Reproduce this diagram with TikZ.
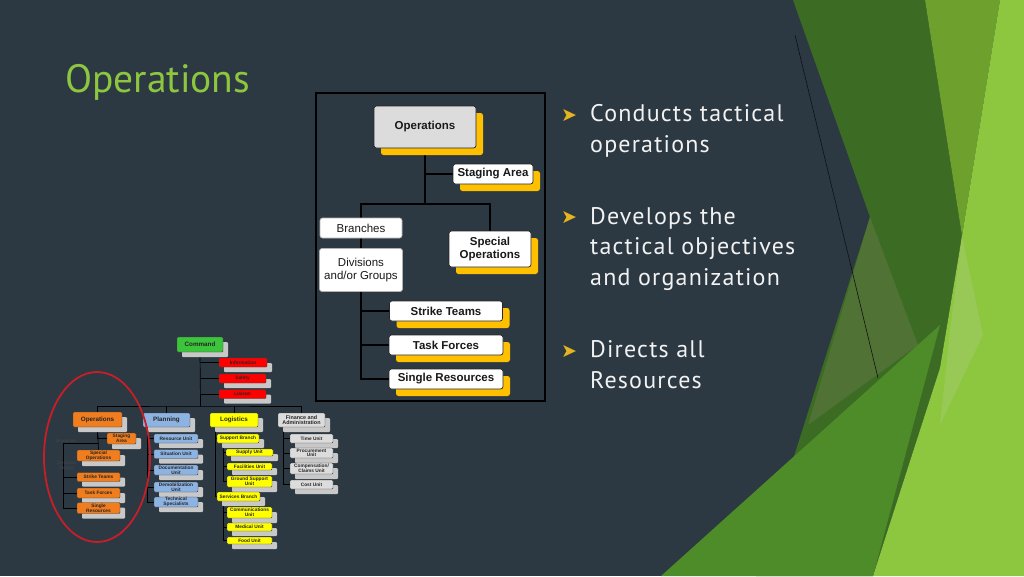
\documentclass[tikz,border=0pt]{standalone}
\usepackage{fontspec}
\setmainfont{PT Sans}
\newfontfamily\bulletfont[LetterSpace=5]{PT Sans}
\newfontfamily\chartfont{Liberation Sans}
\newfontfamily\symfont{DejaVu Sans}
\usetikzlibrary{shadows}
\pgfdeclarelayer{backdrop}
\pgfdeclarelayer{background}
\pgfsetlayers{backdrop,background,main}

\definecolor{slatebg}{RGB}{45,57,66}
\definecolor{facetgreen}{RGB}{141,198,63}
\definecolor{facetdark}{RGB}{60,107,36}
\definecolor{facetolive}{RGB}{80,114,52}
\definecolor{facetmid}{RGB}{110,160,45}
\definecolor{facetlow}{RGB}{78,140,42}
\definecolor{facetpale}{RGB}{152,200,86}
\definecolor{shadowgold}{RGB}{255,192,0}
\definecolor{shadowgray}{RGB}{200,200,200}
\definecolor{cmdgreen}{RGB}{60,196,60}
\definecolor{opsorange}{RGB}{240,125,30}
\definecolor{planblue}{RGB}{141,179,226}
\definecolor{logiyellow}{RGB}{255,255,0}
\definecolor{fingray}{RGB}{220,220,220}
\definecolor{staffred}{RGB}{255,0,0}
\definecolor{ringred}{RGB}{200,30,40}
\definecolor{bullettext}{RGB}{242,242,242}
\definecolor{bulletgold}{RGB}{230,180,30}

\begin{document}
\begin{tikzpicture}[x=1pt, y=-1pt]
\tikzstyle{upbox} = [rectangle, draw=black!85, line width=0.7pt, rounded corners=2.5pt, inner sep=0pt, align=center, text=black!90, font=\chartfont\bfseries\fontsize{11.5}{13.5}\selectfont]
\tikzstyle{goldbox} = [upbox, fill=white, drop shadow={shadow xshift=7pt, shadow yshift=-7pt, fill=shadowgold, opacity=1}]
\tikzstyle{flatbox} = [upbox, fill=white, draw=black!30, font=\chartfont\fontsize{11.5}{13.5}\selectfont]
\tikzstyle{minibox} = [rectangle, draw=black!75, line width=0.4pt, rounded corners=1pt, inner sep=0pt, align=center, text=black!85, font=\chartfont\bfseries\fontsize{4.8}{4.6}\selectfont, drop shadow={shadow xshift=5pt, shadow yshift=-5pt, fill=shadowgray, opacity=1}]
\tikzstyle{minihead} = [minibox, font=\chartfont\bfseries\fontsize{6.3}{6}\selectfont]
\tikzstyle{minilabel} = [inner sep=0pt, align=center, text=black!55!slatebg!80!white, font=\chartfont\fontsize{4.5}{4.5}\selectfont]
\tikzstyle{upline} = [draw, black, line width=1.2pt]
\tikzstyle{miniline} = [draw, black, line width=0.7pt]
\tikzstyle{bullet} = [anchor=base west, align=left, inner sep=0pt, text=bullettext, font=\bulletfont\fontsize{24}{30.5}\selectfont]
\tikzstyle{arrowmark} = [inner sep=0pt, text=bulletgold, font=\symfont\fontsize{19}{19}\selectfont]

\useasboundingbox (0,0) rectangle (1024,576);

% slide background and facet shapes
\begin{pgfonlayer}{backdrop}
\fill[slatebg] (0,0) rectangle (1024,576);
\begin{scope}
\clip (0,0) rectangle (1024,576);
\fill[facetdark] (793,0) -- (925,0) -- (962,236) -- (940,368) -- (873,576) -- (756,576) -- (870,217) -- cycle;
\fill[facetolive] (870,217) -- (918,345) -- (808,425) -- cycle;
\fill[facetmid] (925,0) -- (1000,0) -- (962,236) -- cycle;
\fill[facetgreen] (1000,0) -- (1024,0) -- (1024,576) -- (873,576) -- (940,368) -- (962,236) -- cycle;
\fill[facetpale] (962,236) -- (983,335) -- (940,425) -- (950,330) -- cycle;
\fill[facetlow] (661,576) -- (940,325) -- (873,576) -- cycle;
\draw[black!70!slatebg, line width=0.6pt] (795,35) -- (878,378);
\end{scope}
\end{pgfonlayer}

\node[anchor=base west, inner sep=0pt, text=facetgreen, font=\fontsize{39.5}{42}\selectfont] (title) at (65,92) {Operations};

% operations section chart
\node[draw=black, line width=1.5pt, minimum width=229pt, minimum height=308pt, inner sep=0pt] (upframe) at (430.5,247) {};
\node (opsbig) [upbox, fill=fingray, minimum width=102pt, minimum height=42pt, drop shadow={shadow xshift=7pt, shadow yshift=-7pt, fill=shadowgold, opacity=1}] at (425,127) {Operations};
\node (staging) [goldbox, minimum width=80pt, minimum height=20pt] at (493,174) {Staging Area};
\node (branches) [flatbox, minimum width=82pt, minimum height=20pt] at (361,228) {Branches};
\node (specops) [goldbox, minimum width=82pt, minimum height=36pt] at (490,249) {Special\\Operations};
\node (divgroups) [flatbox, minimum width=83pt, minimum height=43pt] at (361,270) {Divisions\\and/or Groups};
\node (strike) [goldbox, minimum width=113pt, minimum height=20pt] at (446,311) {Strike Teams};
\node (taskf) [goldbox, minimum width=114pt, minimum height=20pt] at (446,345) {Task Forces};
\node (singler) [goldbox, minimum width=114pt, minimum height=20pt] at (446,379) {Single Resources};
\coordinate (opsfork) at (425,204);

\begin{pgfonlayer}{background}
\draw[upline] (opsbig.south) -- (opsfork);
\draw[upline] (opsbig.south |- staging.west) -- (staging.west);
\draw[upline] (branches.north) |- (opsfork) -| (specops.north);
\draw[upline] (branches.south) -- (divgroups.north);
\draw[upline] (divgroups.south) |- (singler.west);
\foreach \s in {strike,taskf}
  \draw[upline] (divgroups.south |- \s.west) -- (\s.west);
\end{pgfonlayer}

% full ICS org chart
\node (cmd) [minihead, fill=cmdgreen, minimum width=46pt, minimum height=15pt] at (200,344.5) {Command};
\node (info) [minibox, fill=staffred, minimum width=48pt, minimum height=9pt] at (243,362.5) {Information};
\node (safety) [minibox, fill=staffred, minimum width=47pt, minimum height=9pt] at (242.5,378.5) {Safety};
\node (liaison) [minibox, fill=staffred, minimum width=47pt, minimum height=9pt] at (242.5,394) {Liaison};

\node (opsmall) [minihead, fill=opsorange, minimum width=49pt, minimum height=15pt] at (97.5,419.5) {Operations};
\node (plan) [minihead, fill=planblue, minimum width=47pt, minimum height=14pt] at (166.5,420) {Planning};
\node (logi) [minihead, fill=logiyellow, minimum width=48pt, minimum height=14pt] at (234,420) {Logistics};
\node (fin) [minibox, fill=fingray, minimum width=47pt, minimum height=14pt, font=\chartfont\bfseries\fontsize{5.4}{5.6}\selectfont] at (301.5,420) {Finance and\\Administration};

\node (stgsmall) [minibox, fill=opsorange, minimum width=29pt, minimum height=11pt] at (121.5,438.5) {Staging\\Area};
\node (spopsmall) [minibox, fill=opsorange, minimum width=43pt, minimum height=11pt] at (98.5,455.5) {Special\\Operations};
\node (strsmall) [minibox, fill=opsorange, minimum width=43pt, minimum height=9pt] at (98.5,477) {Strike Teams};
\node (tfsmall) [minibox, fill=opsorange, minimum width=43pt, minimum height=10pt] at (98.5,493) {Task Forces};
\node (srsmall) [minibox, fill=opsorange, minimum width=43pt, minimum height=11pt] at (98.5,508) {Single\\Resources};
\node (brlabel) [minilabel] at (66,441) {Branches};
\node (divlabel) [minilabel] at (67,466) {Divisions/\\Groups};

\node (resunit) [minibox, fill=planblue, minimum width=44pt, minimum height=9pt] at (176,438.5) {Resource Unit};
\node (situnit) [minibox, fill=planblue, minimum width=44pt, minimum height=9pt] at (176,454) {Situation Unit};
\node (docunit) [minibox, fill=planblue, minimum width=44pt, minimum height=10pt] at (176,470) {Documentation\\Unit};
\node (demobunit) [minibox, fill=planblue, minimum width=44pt, minimum height=10pt] at (176,487) {Demobilization\\Unit};
\node (techspec) [minibox, fill=planblue, minimum width=44pt, minimum height=10pt] at (176,502) {Technical\\Specialists};

\node (suppbr) [minibox, fill=logiyellow, minimum width=42pt, minimum height=9pt] at (238,438.5) {Support Branch};
\node (supply) [minibox, fill=logiyellow, minimum width=47pt, minimum height=7pt] at (249.5,452.5) {Supply Unit};
\node (facil) [minibox, fill=logiyellow, minimum width=45pt, minimum height=7pt] at (249.5,466.5) {Facilities Unit};
\node (ground) [minibox, fill=logiyellow, minimum width=45pt, minimum height=11pt] at (249.5,481.5) {Ground Support\\Unit};
\node (servbr) [minibox, fill=logiyellow, minimum width=43pt, minimum height=9pt] at (238.5,496.5) {Services Branch};
\node (comms) [minibox, fill=logiyellow, minimum width=45pt, minimum height=11pt] at (249.5,512.5) {Communications\\Unit};
\node (medical) [minibox, fill=logiyellow, minimum width=45pt, minimum height=8pt] at (249.5,527) {Medical Unit};
\node (food) [minibox, fill=logiyellow, minimum width=45pt, minimum height=7pt] at (249.5,540.5) {Food Unit};

\node (timeu) [minibox, fill=fingray, minimum width=43pt, minimum height=9pt] at (311.5,438.5) {Time Unit};
\node (procu) [minibox, fill=fingray, minimum width=43pt, minimum height=10pt] at (311.5,453) {Procurement\\Unit};
\node (compu) [minibox, fill=fingray, minimum width=43pt, minimum height=11pt] at (311.5,468.5) {Compensation/\\Claims Unit};
\node (costu) [minibox, fill=fingray, minimum width=43pt, minimum height=9pt] at (311.5,484.5) {Cost Unit};

\coordinate (cmdfork) at (200.5,406);
\coordinate (divrail) at (63,443);
\coordinate (planrail) at (147,427);
\coordinate (logirail) at (215,427);
\coordinate (supprail) at (223,443);
\coordinate (servrail) at (223,501);
\coordinate (finrail) at (283,427);

\begin{pgfonlayer}{background}
\draw[miniline] (cmd.south) -- (cmdfork);
\foreach \s in {info,safety,liaison}
  \draw[miniline] (cmd.south |- \s.west) -- (\s.west);
\draw[miniline] (opsmall.north) |- (cmdfork) -| (fin.north);
\draw[miniline] (plan.north) -- (plan.north |- cmdfork);
\draw[miniline] (logi.north) -- (logi.north |- cmdfork);
\draw[miniline] (opsmall.south) |- (stgsmall.west);
\draw[miniline] (opsmall.south) -- (spopsmall.north);
\draw[miniline] (divrail) -- (divrail -| opsmall.south);
\draw[miniline] (divrail) |- (srsmall.west);
\foreach \s in {strsmall,tfsmall}
  \draw[miniline] (divrail |- \s.west) -- (\s.west);
\draw[miniline] (planrail) |- (techspec.west);
\foreach \s in {resunit,situnit,docunit,demobunit}
  \draw[miniline] (planrail |- \s.west) -- (\s.west);
\draw[miniline] (logirail) |- (servbr.west);
\draw[miniline] (logirail |- suppbr.west) -- (suppbr.west);
\draw[miniline] (supprail) |- (ground.west);
\foreach \s in {supply,facil}
  \draw[miniline] (supprail |- \s.west) -- (\s.west);
\draw[miniline] (servrail) |- (food.west);
\foreach \s in {comms,medical}
  \draw[miniline] (servrail |- \s.west) -- (\s.west);
\draw[miniline] (finrail) |- (costu.west);
\foreach \s in {timeu,procu,compu}
  \draw[miniline] (finrail |- \s.west) -- (\s.west);
\end{pgfonlayer}

\draw[ringred, line width=1.8pt] (97,457) ellipse [x radius=53, y radius=85];

% bullet list
\node (arrA) [arrowmark] at (569,116) {➤};
\node (arrB) [arrowmark] at (569,218) {➤};
\node (arrC) [arrowmark] at (569,352) {➤};
\node (bulA) [bullet] at (590,152) {Conducts tactical\\operations};
\node (bulB) [bullet] at (590,285) {Develops the\\tactical objectives\\and organization};
\node (bulC) [bullet] at (590,388) {Directs all\\Resources};
\end{tikzpicture}
\end{document}
